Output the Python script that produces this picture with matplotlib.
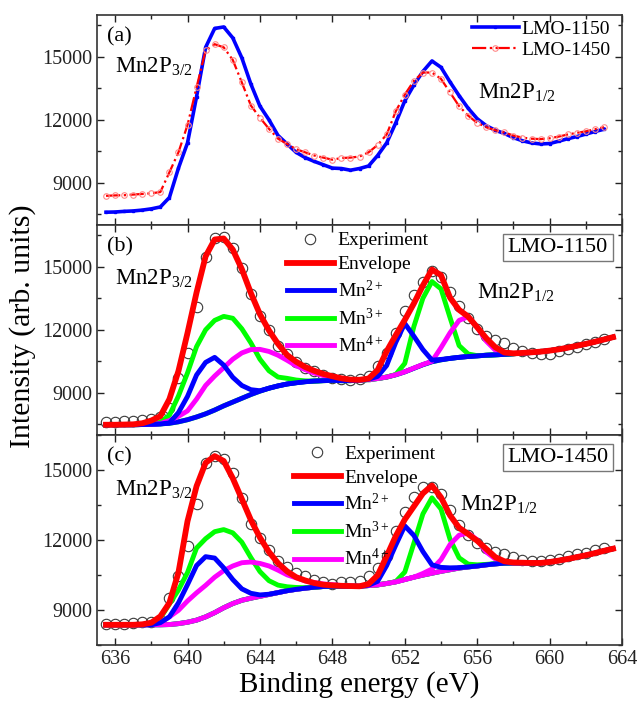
import matplotlib
matplotlib.use("Agg")
import matplotlib.pyplot as plt
from matplotlib.ticker import MultipleLocator
import numpy as np

plt.rcParams["font.family"] = ["Liberation Serif", "DejaVu Serif"]
plt.rcParams["mathtext.fontset"] = "custom"
plt.rcParams["mathtext.rm"] = "Liberation Serif"
plt.rcParams["mathtext.it"] = "Liberation Serif:italic"
plt.rcParams["mathtext.bf"] = "Liberation Serif:bold"

# binding energy grids (eV)
e_exp = np.arange(635.5, 663.01, 0.5)
e_fit = np.arange(635.5, 663.51, 0.5)

# measured spectra
exp_1150 = [7600, 7610, 7640, 7660, 7700, 7760, 7850, 8300, 9700, 10900,
            13100, 15450, 16350, 16420, 15900, 14950, 13700, 12650, 12000, 11250,
            10850, 10450, 10200, 10020, 9860, 9700, 9680, 9600, 9680, 9800,
            10300, 10900, 11850, 12900, 13650, 14300, 14800, 14500, 13800, 13150,
            12550, 12050, 11720, 11500, 11350, 11150, 11000, 10900, 10850, 10870,
            10980, 11100, 11200, 11320, 11440, 11550]
exp_1450 = [8380, 8400, 8410, 8440, 8470, 8500, 8560, 9500, 10450, 11750,
            13550, 15300, 15600, 15450, 14850, 13780, 12680, 12100, 11570, 11100,
            10850, 10600, 10450, 10300, 10200, 10100, 10180, 10200, 10250, 10450,
            10800, 11300, 12400, 13200, 13850, 14250, 14250, 13950, 13300, 12650,
            12200, 11850, 11650, 11500, 11400, 11250, 11150, 11100, 11080, 11120,
            11200, 11300, 11380, 11450, 11550, 11650]

# fit of LMO-1150
bg_b = [7480, 7480, 7480, 7480, 7490, 7500, 7520, 7550, 7620, 7720,
        7850, 8000, 8180, 8380, 8560, 8740, 8920, 9080, 9220, 9330,
        9420, 9480, 9530, 9560, 9580, 9590, 9580, 9580, 9600, 9630,
        9680, 9750, 9860, 10000, 10170, 10340, 10480, 10570, 10640, 10690,
        10730, 10760, 10790, 10810, 10830, 10860, 10890, 10920, 10960, 11010,
        11070, 11150, 11240, 11330, 11430, 11540, 11650]
env_b = [7480, 7480, 7490, 7500, 7550, 7680, 7890, 8700, 10040, 11850,
         13780, 15500, 16300, 16350, 15820, 14890, 13750, 12740, 11970, 11330,
         10800, 10480, 10230, 10050, 9900, 9790, 9690, 9630, 9620, 9680,
         10080, 10980, 11740, 12470, 13250, 14110, 14870, 14600, 13530, 12950,
         12630, 12120, 11600, 11170, 10920, 10880, 10900, 10930, 10960, 11010,
         11070, 11150, 11240, 11330, 11430, 11540, 11650]
mn2_b = [7480, 7480, 7480, 7480, 7490, 7500, 7520, 7570, 8060, 8830,
         9850, 10450, 10690, 10320, 9740, 9350, 9150, 9100, 9220, 9330,
         9420, 9480, 9530, 9560, 9580, 9590, 9580, 9580, 9600, 9650,
         9780, 10300, 11400, 12300, 11700, 11060, 10560, 10590, 10640, 10690,
         10730, 10760, 10790, 10810, 10830, 10860, 10890, 10920, 10960, 11010,
         11070, 11150, 11240, 11330, 11430, 11540, 11650]
mn3_b = [7480, 7480, 7480, 7480, 7490, 7510, 7600, 7930, 8850, 9950,
         11200, 12000, 12450, 12640, 12550, 12050, 11380, 10600, 10050, 9750,
         9690, 9610, 9570, 9560, 9580, 9590, 9580, 9580, 9600, 9630,
         9680, 9750, 9870, 10400, 12150, 13500, 14300, 13950, 12580, 11250,
         10850, 10770, 10790, 10810, 10830, 10860, 10890, 10920, 10960, 11010,
         11070, 11150, 11240, 11330, 11430, 11540, 11650]
mn4_b = [7480, 7480, 7480, 7480, 7490, 7500, 7540, 7680, 7880, 8140,
         8700, 9350, 9800, 10200, 10600, 10900, 11060, 11070, 10970, 10790,
         10550, 10290, 10100, 9940, 9820, 9720, 9640, 9590, 9600, 9630,
         9680, 9750, 9860, 10000, 10180, 10350, 10500, 11150, 11860, 12450,
         12620, 12120, 11460, 11030, 10910, 10870, 10890, 10920, 10960, 11010,
         11070, 11150, 11240, 11330, 11430, 11540, 11650]

# fit of LMO-1450
bg_c = [8360, 8360, 8360, 8360, 8360, 8360, 8360, 8370, 8410, 8470,
        8560, 8700, 8880, 9090, 9270, 9410, 9500, 9580, 9660, 9740,
        9820, 9880, 9930, 9970, 10000, 10010, 10010, 10010, 10010, 10040,
        10070, 10130, 10200, 10300, 10400, 10490, 10570, 10650, 10720, 10790,
        10840, 10880, 10930, 10970, 11000, 11010, 11010, 11010, 11010, 11050,
        11110, 11180, 11260, 11340, 11430, 11530, 11620]
env_c = [8360, 8360, 8360, 8360, 8380, 8450, 8720, 9300, 10600, 12800,
         14300, 15300, 15590, 15380, 14640, 13750, 12850, 12100, 11480, 11000,
         10650, 10400, 10260, 10150, 10080, 10050, 10030, 10020, 10010, 10110,
         10480, 11300, 12160, 12870, 13430, 13990, 14330, 13820, 13050, 12520,
         12250, 11960, 11610, 11260, 11080, 11030, 11020, 11010, 11010, 11050,
         11110, 11180, 11260, 11340, 11430, 11530, 11620]
mn2_c = [8360, 8360, 8360, 8360, 8360, 8360, 8450, 8700, 9300, 10080,
         10900, 11280, 11220, 10800, 10300, 9900, 9710, 9640, 9670, 9740,
         9820, 9880, 9930, 9970, 10000, 10010, 10010, 10010, 10010, 10060,
         10220, 10900, 11770, 12600, 12190, 11500, 10930, 10820, 10800, 10810,
         10840, 10880, 10930, 10970, 11000, 11010, 11010, 11010, 11010, 11050,
         11110, 11180, 11260, 11340, 11430, 11530, 11620]
mn3_c = [8360, 8360, 8360, 8360, 8360, 8400, 8650, 9250, 9850, 10600,
         11650, 12050, 12350, 12440, 12300, 11900, 11240, 10640, 10250, 10060,
         9990, 9960, 9950, 9970, 10000, 10010, 10010, 10010, 10010, 10040,
         10070, 10130, 10210, 10620, 11850, 13110, 13800, 13320, 12020, 11230,
         10960, 10930, 10950, 10980, 11000, 11010, 11010, 11010, 11010, 11050,
         11110, 11180, 11260, 11340, 11430, 11530, 11620]
mn4_c = [8360, 8360, 8360, 8360, 8360, 8370, 8450, 8700, 8980, 9380,
         9730, 10050, 10400, 10680, 10880, 11020, 11050, 10990, 10880, 10700,
         10500, 10370, 10240, 10170, 10110, 10080, 10040, 10020, 10010, 10040,
         10070, 10130, 10200, 10300, 10400, 10560, 10750, 11150, 11800, 12200,
         12290, 12000, 11480, 11180, 11050, 11010, 11010, 11010, 11010, 11050,
         11110, 11180, 11260, 11340, 11430, 11530, 11620]

BLUE = "#0000ff"
RED = "#ff0000"
GREEN = "#00ff00"
MAGENTA = "#ff00ff"

fig, axes = plt.subplots(3, 1, figsize=(6.38, 7.04), dpi=100, sharex=True)
fig.subplots_adjust(left=0.152, right=0.975, bottom=0.084, top=0.979, hspace=0)
ax_a, ax_b, ax_c = axes

# (a) raw spectra
ax_a.plot(e_exp, exp_1150, "-", color=BLUE, lw=2.6, marker="s", ms=2,
          label="LMO-1150")
ax_a.plot(e_exp, exp_1450, "-.", color=RED, lw=1.6, marker="o", ms=4,
          mfc="none", mec="#ff8a8a", mew=0.8, label="LMO-1450")
ax_a.legend(loc="upper left", bbox_to_anchor=(0.714, 0.975), frameon=False,
            fontsize=14, handlelength=2.4, handletextpad=0.15,
            labelspacing=0.2, borderpad=0, borderaxespad=0)
ax_a.set_ylim(7000, 17000)


def fit_panel(ax, exp, bg, env, mn2, mn3, mn4, bg_colors, name, leg_xy):
    ax.plot(e_exp, exp, "o", ms=7.5, mfc="none", mec="#3a3a3a", mew=0.8,
            label="Experiment", zorder=1)
    for c in bg_colors:
        ax.plot(e_fit, bg, "-", color=c, lw=3.5, zorder=2)
    ax.plot(e_fit, mn3, "-", color=GREEN, lw=3.5, zorder=3)
    ax.plot(e_fit, mn4, "-", color=MAGENTA, lw=3.5, zorder=3)
    ax.plot(e_fit, mn2, "-", color=BLUE, lw=3.5, zorder=3)
    ax.plot(e_fit, env, "-", color=RED, lw=4.2, zorder=4)
    # legend in the order of the original
    h = [ax.lines[0],
         plt.Line2D([], [], color=RED, lw=4.2),
         plt.Line2D([], [], color=BLUE, lw=3.5),
         plt.Line2D([], [], color=GREEN, lw=3.5),
         plt.Line2D([], [], color=MAGENTA, lw=3.5)]
    labels = ["Experiment", "Envelope", "Mn$^{2+}$", "Mn$^{3+}$", "Mn$^{4+}$"]
    ax.legend(h, labels, loc="upper left", bbox_to_anchor=leg_xy,
              frameon=False, fontsize=14, handlelength=2.4,
              handletextpad=0.2, labelspacing=0.33, borderpad=0,
              borderaxespad=0)
    ax.text(0.878, 0.892, name, transform=ax.transAxes, fontsize=16,
            ha="center", va="center",
            bbox=dict(boxstyle="square,pad=0.2", fc="white", ec="#777777",
                      lw=1))


fit_panel(ax_b, exp_1150, bg_b, env_b, mn2_b, mn3_b, mn4_b,
          [GREEN, BLUE], "LMO-1150", (0.362, 0.967))
ax_b.set_ylim(7000, 17000)
fit_panel(ax_c, exp_1450, bg_c, env_c, mn2_c, mn3_c, mn4_c,
          [BLUE, GREEN, MAGENTA], "LMO-1450", (0.375, 0.952))
ax_c.set_ylim(7500, 16500)

# panel letters and peak labels
letters = ["(a)", "(b)", "(c)"]
p32_y = [0.75, 0.744, 0.738]
p12_xy = [(0.726, 0.627), (0.724, 0.678), (0.691, 0.667)]
for ax, letter, y32, xy12 in zip(axes, letters, p32_y, p12_xy):
    ax.text(0.019, 0.895, letter, transform=ax.transAxes, fontsize=16,
            ha="left", va="center")
    ax.text(0.034, y32, "Mn2P$_{3/2}$", transform=ax.transAxes, fontsize=16.5,
            ha="left", va="center")
    ax.text(xy12[0], xy12[1], "Mn2P$_{1/2}$", transform=ax.transAxes,
            fontsize=16.5, ha="left", va="center")

for ax in axes:
    ax.set_xlim(635, 664)
    ax.xaxis.set_major_locator(MultipleLocator(4))
    ax.xaxis.set_minor_locator(MultipleLocator(2))
    ax.yaxis.set_major_locator(MultipleLocator(3000))
    ax.yaxis.set_minor_locator(MultipleLocator(1500))
    ax.set_yticks([9000, 12000, 15000])
    ax.tick_params(which="both", direction="in", top=True, right=True,
                   width=1, colors="#222222", labelsize=14.5)
    ax.tick_params(which="major", length=5)
    ax.tick_params(which="minor", length=3)
    for s in ax.spines.values():
        s.set_linewidth(1.2)
        s.set_color("#333333")

ax_c.set_xlabel("Binding energy (eV)", fontsize=21, labelpad=2)
fig.text(0.035, 0.537, "Intensity (arb. units)", rotation=90, fontsize=21.5,
         ha="center", va="center")

fig.savefig("out.png", dpi=100)
